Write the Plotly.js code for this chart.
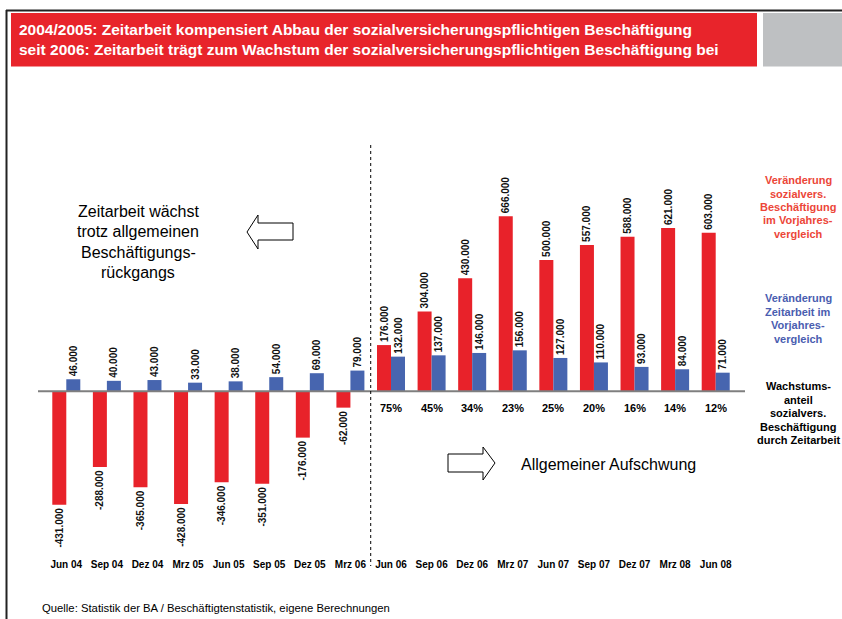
<!DOCTYPE html>
<html>
<head>
<meta charset="utf-8">
<script src="https://cdn.plot.ly/plotly-3.0.1.min.js"></script>
<style>
  html, body { margin: 0; padding: 0; background: #ffffff; }
  #chart { width: 842px; height: 619px; }
</style>
</head>
<body>
<div id="chart"></div>
<script>
// ---- data ----
const categories = ['Jun 04','Sep 04','Dez 04','Mrz 05','Jun 05','Sep 05','Dez 05','Mrz 06',
                    'Jun 06','Sep 06','Dez 06','Mrz 07','Jun 07','Sep 07','Dez 07','Mrz 08','Jun 08'];
// Veränderung sozialversicherungspflichtige Beschäftigung im Vorjahresvergleich (in Tsd.)
const sozialvers = [-431,-288,-365,-428,-346,-351,-176,-62,176,304,430,666,500,557,588,621,603];
// Veränderung Zeitarbeit im Vorjahresvergleich (in Tsd.)
const zeitarbeit = [46,40,43,33,38,54,69,79,132,137,146,156,127,110,93,84,71];
// Wachstumsanteil (from Jun 06 on)
const anteilCategories = ['Jun 06','Sep 06','Dez 06','Mrz 07','Jun 07','Sep 07','Dez 07','Mrz 08','Jun 08'];
const anteil = ['75%','45%','34%','23%','25%','20%','16%','14%','12%'];

const titleLines = [
  '2004/2005: Zeitarbeit kompensiert Abbau der sozialversicherungspflichtigen Beschäftigung',
  'seit 2006: Zeitarbeit trägt zum Wachstum der sozialversicherungspflichtigen Beschäftigung bei'
];

// ---- layout helpers (pixel -> paper) ----
const W = 842, H = 619;
const M = {l: 46, r: 106, t: 181, b: 62};
const PL = M.l, PR = W - M.r, PT = M.t, PB = H - M.b;
const px = p => (p - PL) / (PR - PL);
const py = p => (PB - p) / (PB - PT);

const RED = '#E8222A', BLUE = '#4765AF';
const fmt = v => v.toFixed(0) + '.000';
const SANS = 'Liberation Sans, Arial, sans-serif';

const traceCommon = {
  type: 'bar', textposition: 'outside', textangle: -90, cliponaxis: false,
  constraintext: 'none', hoverinfo: 'skip',
  textfont: {family: SANS, size: 10, color: '#111', weight: 'bold'}
};
const traces = [
  Object.assign({}, traceCommon, {
    x: categories, y: sozialvers, text: sozialvers.map(fmt),
    marker: {color: RED}, name: 'sozialvers.'
  }),
  Object.assign({}, traceCommon, {
    x: categories, y: zeitarbeit, text: zeitarbeit.map(fmt),
    marker: {color: BLUE}, name: 'Zeitarbeit'
  })
];

function arrowPath(pts) {
  return 'M' + pts.map(p => px(p[0]) + ',' + py(p[1])).join(' L') + ' Z';
}

const shapes = [
  // slide frame
  {type: 'line', xref: 'paper', yref: 'paper', x0: px(6.5), x1: px(6.5), y0: py(10), y1: py(619), line: {color: '#222', width: 2}},
  {type: 'line', xref: 'paper', yref: 'paper', x0: px(6), x1: px(842), y0: py(10.5), y1: py(10.5), line: {color: '#222', width: 2}},
  // title box
  {type: 'rect', xref: 'paper', yref: 'paper', x0: px(11), x1: px(757), y0: py(13), y1: py(66.5), fillcolor: '#E8242B', line: {width: 0}, layer: 'below'},
  {type: 'rect', xref: 'paper', yref: 'paper', x0: px(763), x1: px(842), y0: py(13), y1: py(66.5), fillcolor: '#BEC0C2', line: {width: 0}, layer: 'below'},
  // zero line
  {type: 'line', xref: 'paper', yref: 'y', x0: px(38), x1: px(745), y0: 0, y1: 0, line: {color: '#7f7f7f', width: 2}, layer: 'above'},
  // dotted separator
  {type: 'line', xref: 'x', yref: 'paper', x0: 7.5, x1: 7.5, y0: py(145), y1: py(566), line: {color: '#000', width: 1, dash: 'dot'}},
  // left arrow
  {type: 'path', xref: 'paper', yref: 'paper', line: {color: '#000', width: 1}, fillcolor: '#fff',
   path: arrowPath([[247,232],[258,215],[258,223],[293,223],[293,240],[258,240],[258,249]])},
  // right arrow
  {type: 'path', xref: 'paper', yref: 'paper', line: {color: '#000', width: 1}, fillcolor: '#fff',
   path: arrowPath([[495,463],[483,447],[483,454],[448,454],[448,472],[483,472],[483,480]])}
];

const annotations = [];
// title
titleLines.forEach((t, i) => annotations.push({
  xref: 'paper', yref: 'paper', x: px(17), y: py(30 + i * 19), xanchor: 'left', yanchor: 'middle',
  text: t, showarrow: false, font: {family: SANS, size: 15.5, color: '#fff', weight: 'bold'}
}));
// growth share labels
anteil.forEach((a, i) => annotations.push({
  xref: 'x', yref: 'paper', x: anteilCategories[i], y: py(408), yanchor: 'middle',
  text: a, showarrow: false, font: {family: SANS, size: 11, color: '#000', weight: 'bold'}
}));
// left comment
['Zeitarbeit wächst','trotz allgemeinen','Beschäftigungs-','rückgangs'].forEach((t, i) => annotations.push({
  xref: 'paper', yref: 'paper', x: px(138), y: py(211 + i * 20.5), xanchor: 'center', yanchor: 'middle',
  text: t, showarrow: false, font: {family: SANS, size: 16, color: '#000'}
}));
annotations.push({
  xref: 'paper', yref: 'paper', x: px(519), y: py(464), xanchor: 'left', yanchor: 'middle',
  text: 'Allgemeiner Aufschwung', showarrow: false, font: {family: SANS, size: 16, color: '#000'}
});
// right side legend texts
function block(lines, y0, color) {
  lines.forEach((t, i) => annotations.push({
    xref: 'paper', yref: 'paper', x: px(798), y: py(y0 + i * 13.5), xanchor: 'center', yanchor: 'middle',
    text: t, showarrow: false, font: {family: SANS, size: 11, color: color, weight: 'bold'}
  }));
}
block(['Veränderung','sozialvers.','Beschäftigung','im Vorjahres-','vergleich'], 180, '#EC4638');
block(['Veränderung','Zeitarbeit im','Vorjahres-','vergleich'], 298, '#4A5DB0');
block(['Wachstums-','anteil','sozialvers.','Beschäftigung','durch Zeitarbeit'], 386, '#000');
// source
annotations.push({
  xref: 'paper', yref: 'paper', x: px(40), y: py(608), xanchor: 'left', yanchor: 'middle',
  text: 'Quelle: Statistik der BA / Beschäftigtenstatistik, eigene Berechnungen', showarrow: false,
  font: {family: SANS, size: 11.3, color: '#000'}
});

const layout = {
  width: W, height: H, margin: M,
  paper_bgcolor: '#fff', plot_bgcolor: 'rgba(0,0,0,0)',
  showlegend: false, barmode: 'group', bargap: 0.31, bargroupgap: 0,
  xaxis: {type: 'category', showgrid: false, zeroline: false, showline: false, ticks: '',
          tickfont: {family: SANS, size: 10, color: '#000', weight: 'bold'}, fixedrange: true},
  yaxis: {range: [-630, 800], visible: false, fixedrange: true},
  shapes: shapes, annotations: annotations
};

Plotly.newPlot('chart', traces, layout, {staticPlot: true, displayModeBar: false});
</script>
</body>
</html>
